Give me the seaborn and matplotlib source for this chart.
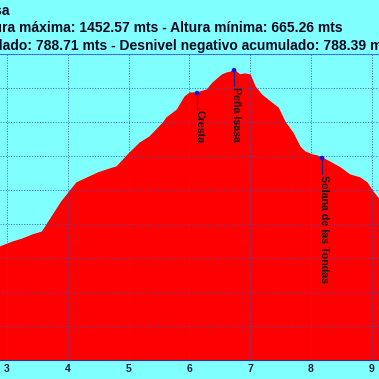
import matplotlib
matplotlib.use("Agg")
import matplotlib.pyplot as plt
import seaborn as sns
import pandas as pd

# distance (km) and elevation (m)
km = [2.885, 3.10, 3.25, 3.43, 3.58, 3.71, 3.90, 4.15, 4.32, 4.50, 4.65, 4.81, 4.99,
      5.19, 5.35, 5.57, 5.63, 5.80, 5.93, 6.01, 6.125, 6.29, 6.39, 6.54, 6.62,
      6.68, 6.734, 6.83, 6.91, 7.00, 7.08, 7.19, 7.33, 7.46, 7.57, 7.70, 7.82,
      7.90, 8.02, 8.10, 8.181, 8.31, 8.48, 8.64, 8.81, 8.92, 9.02, 9.118]
elev = [932, 947, 955, 968, 976, 1012, 1065, 1121, 1135, 1150, 1159, 1168, 1203,
        1238, 1256, 1297, 1312, 1335, 1374, 1385, 1385, 1394, 1415, 1438, 1444,
        1446, 1452.57, 1438, 1441, 1438, 1403, 1379, 1359, 1341, 1300, 1268, 1226,
        1212, 1203, 1200, 1194, 1182, 1165, 1144, 1135, 1121, 1094, 1072]

# waypoints
wp_names = ["Cresta", "Peña Isasa", "Solana de las Tondas"]
wp_km = [6.125, 6.734, 8.181]
wp_elev = [1385, 1452.57, 1194]

title_lines = ["Peña Isasa",
               "Altura máxima: 1452.57 mts - Altura mínima: 665.26 mts",
               "Desnivel positivo acumulado: 788.71 mts - Desnivel negativo acumulado: 788.39 mts"]

xticks = [3, 4, 5, 6, 7, 8, 9]
yticks = [600, 700, 800, 900, 1000, 1100, 1200, 1300, 1400, 1500]

bg = "#80ffff"
plt.rcParams["font.family"] = ["Liberation Sans", "DejaVu Sans"]

df = pd.DataFrame({"km": km, "elev": elev})

fig = plt.figure(figsize=(3.79, 3.79), dpi=100, facecolor=bg)
ax = fig.add_axes([0.0, 1 - 360 / 379, 1.0, (360 - 54) / 379])
ax.set_facecolor(bg)

ax.fill_between(df["km"], 600, df["elev"], color="#ff0000", lw=0, zorder=1)
sns.lineplot(data=df, x="km", y="elev", ax=ax, color="#ff0000", lw=1, zorder=2)

ax.set_xlim(2.885, 9.118)
ax.set_ylim(600, 1500)
ax.set_xticks(xticks)
ax.set_yticks(yticks)
ax.set_xlabel("")
ax.set_ylabel("")
ax.grid(True, color="#3050d0", alpha=0.75, linestyle=(0, (1.2, 1.5)), lw=0.7, zorder=3)
ax.set_axisbelow(False)
ax.tick_params(axis="x", length=0, pad=3, labelsize=7.5, labelcolor="#102030")
ax.tick_params(axis="y", length=0, labelleft=False)
for lab in ax.get_xticklabels():
    lab.set_fontweight("bold")

for side in ["left", "right"]:
    ax.spines[side].set_visible(False)
ax.spines["bottom"].set_color("#3030a0")
ax.spines["top"].set_color("#4080ff")

# waypoints: dot, stem and rotated label
sns.scatterplot(x=wp_km, y=wp_elev, ax=ax, color="#1010e0", s=11, edgecolor="none", zorder=5)
for name, x, y in zip(wp_names, wp_km, wp_elev):
    ax.plot([x, x], [y, y - 48], color="#202080", lw=0.8, zorder=4)
    ax.text(x - 0.01, y - 50, name, rotation=-90, rotation_mode="anchor",
            ha="left", va="baseline", fontsize=7.7, fontweight="bold",
            color="#101010", zorder=5)

# title lines, clipped at the left like the original
title_y = [1 - 11 / 379, 1 - 28 / 379, 1 - 46 / 379]
title_right = [10 / 379, 343 / 379, 395 / 379]
for txt, yy, xr in zip(title_lines, title_y, title_right):
    fig.text(xr, yy, txt, ha="right", va="center", fontsize=10,
             fontweight="bold", color="#0a0a20")

fig.savefig("out.png", dpi=100, facecolor=bg)
